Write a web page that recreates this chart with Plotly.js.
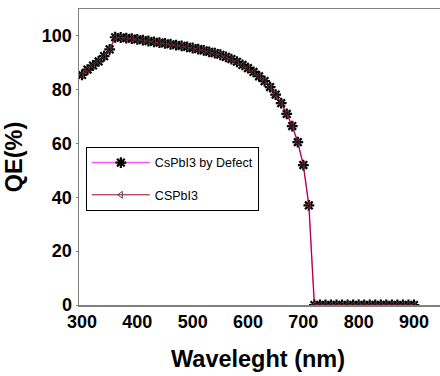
<!DOCTYPE html>
<html>
<head>
<meta charset="utf-8">
<script src="https://cdn.plot.ly/plotly-3.0.1.min.js"></script>
<style>html,body{margin:0;padding:0;background:#fff;}#chart{width:440px;height:376px;}</style>
</head>
<body>
<div id="chart"></div>
<script>
const wavelength = [300,310,320,330,340,350,360,370,380,390,400,410,420,430,440,450,460,470,480,490,500,510,520,530,540,550,560,570,580,590,600,610,620,630,640,650,660,670,680,690,700,710,720,730,740,750,760,770,780,790,800,810,820,830,840,850,860,870,880,890,900];
const qeDefect = [85.5,87.5,89,90.5,92.5,95,99.5,99.4,99.2,99,98.7,98.4,98.1,97.8,97.5,97.2,96.9,96.6,96.3,95.9,95.5,95.1,94.6,94.1,93.6,93,92.2,91.4,90.4,89.2,88,86.6,85,83.2,81,78.2,75,71,66.5,60.5,52,37,0,0,0,0,0,0,0,0,0,0,0,0,0,0,0,0,0,0,0];
const qeCsPbI3 = [85.5,87.5,89,90.5,92.5,95,99.5,99.4,99.2,99,98.7,98.4,98.1,97.8,97.5,97.2,96.9,96.6,96.3,95.9,95.5,95.1,94.6,94.1,93.6,93,92.2,91.4,90.4,89.2,88,86.6,85,83.2,81,78.2,75,71,66.5,60.5,52,37,0,0,0,0,0,0,0,0,0,0,0,0,0,0,0,0,0,0,0];
const seriesNames = ["CsPbI3 by Defect", "CSPbI3"];
const xTicks = [300,400,500,600,700,800,900];
const yTicks = [0,20,40,60,80,100];
const xTitle = 'Waveleght (nm)';
const yTitle = 'QE(%)';

const traces = [
  {
    x: wavelength, y: qeDefect, name: seriesNames[0], type: 'scatter', mode: 'lines+markers',
    legendgroup: 'a',
    line: {color: '#ff55ff', width: 1.5},
    marker: {symbol: 'asterisk-open', size: 9, color: '#000', line: {color: '#000', width: 2.2}}
  },
  {
    x: wavelength, y: qeCsPbI3, name: seriesNames[1], type: 'scatter', mode: 'lines+markers',
    legendgroup: 'b',
    line: {color: '#a00020', width: 1},
    marker: {symbol: 'triangle-left-open', size: 6, color: '#444', line: {color: '#444', width: 1}}
  }
];

const axisFont = {family: 'Liberation Sans, Arial, sans-serif', size: 18, color: '#000', weight: 'bold'};
const titleFont = {family: 'Liberation Sans, Arial, sans-serif', size: 23.5, color: '#000', weight: 'bold'};

const layout = {
  width: 440, height: 376,
  margin: {l: 79, r: 0, t: 9, b: 71},
  paper_bgcolor: '#fff', plot_bgcolor: '#fff',
  showlegend: true,
  legend: {
    x: 0.019, y: 0.534, xanchor: 'left', yanchor: 'top',
    bgcolor: '#fff', bordercolor: '#000', borderwidth: 1,
    font: {family: 'Liberation Sans, Arial, sans-serif', size: 12.5, color: '#000'},
    itemwidth: 58, tracegroupgap: 13, traceorder: 'grouped'
  },
  xaxis: {
    range: [294.6, 947], tickvals: xTicks, ticktext: xTicks.map(String),
    showline: true, linecolor: '#808080', linewidth: 1.5, mirror: true,
    showgrid: false, zeroline: false, ticks: '', tickfont: axisFont,
    automargin: false
  },
  yaxis: {
    range: [0, 110], tickvals: yTicks, ticktext: yTicks.map(String),
    showline: true, linecolor: '#808080', linewidth: 1.5,
    showgrid: false, zeroline: false, ticks: 'outside', ticklen: 2, tickcolor: '#808080', tickfont: axisFont,
    title: {text: yTitle, font: titleFont, standoff: 12}, automargin: false
  },
  annotations: [{
    text: xTitle, xref: 'paper', yref: 'paper', x: 0.496, y: -0.2345,
    xanchor: 'center', yanchor: 'bottom', showarrow: false, font: titleFont
  }]
};

Plotly.newPlot('chart', traces, layout, {displayModeBar: false, staticPlot: true});
</script>
</body>
</html>
